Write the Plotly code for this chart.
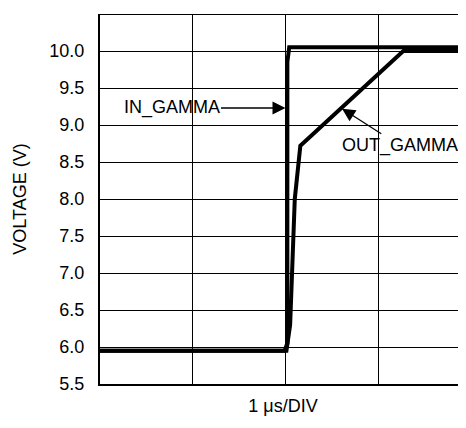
import plotly.graph_objects as go

# time in divisions (1 us/DIV), voltage in V
in_t = [0, 1.99, 2.02, 2.02, 2.04, 4.0]
in_v = [5.95, 5.95, 6.05, 9.85, 10.05, 10.05]

out_t = [0, 2.01, 2.05, 2.10, 2.16, 3.27, 4.0]
out_v = [5.95, 5.95, 6.3, 8.0, 8.72, 10.0, 10.0]

y_ticks = [5.5, 6.0, 6.5, 7.0, 7.5, 8.0, 8.5, 9.0, 9.5, 10.0, 10.5]

FONT = "Liberation Sans, Arial, sans-serif"

fig = go.Figure()
fig.add_trace(go.Scatter(x=out_t, y=out_v, mode="lines",
                         line=dict(color="black", width=4), name="OUT_GAMMA"))
fig.add_trace(go.Scatter(x=in_t, y=in_v, mode="lines",
                         line=dict(color="black", width=4), name="IN_GAMMA"))

# top border
fig.add_shape(type="line", xref="paper", yref="y", x0=0, x1=1, y0=10.5, y1=10.5,
              line=dict(color="black", width=2))

fig.add_annotation(x=2.0, y=9.23, ax=-114, ay=0, text="IN_GAMMA",
                   showarrow=True, arrowhead=2, arrowsize=2, arrowwidth=1.3,
                   arrowcolor="black", font=dict(size=18, color="black"))
fig.add_annotation(x=2.61, y=9.22, ax=58, ay=37, text="OUT_GAMMA",
                   showarrow=True, arrowhead=2, arrowsize=2, arrowwidth=1.3,
                   arrowcolor="black", font=dict(size=18, color="black"))

# page body has an 8px margin, so the figure is a bit smaller than the window
fig.update_layout(
    width=458, height=420,
    margin=dict(l=92, r=0, t=6, b=44),
    plot_bgcolor="white", paper_bgcolor="white",
    showlegend=False,
    font=dict(family=FONT, size=18, color="black"),
    xaxis=dict(range=[0, 3.946], dtick=1, showticklabels=False, ticks="",
               showgrid=True, gridcolor="black", gridwidth=1,
               showline=True, linecolor="black", linewidth=2, zeroline=False,
               title=dict(text="1 μs/DIV", standoff=14, font=dict(size=18))),
    yaxis=dict(range=[5.5, 10.5], tickvals=y_ticks, tickformat=".1f", ticks="",
               ticklabelstandoff=10,
               showgrid=True, gridcolor="black", gridwidth=1,
               showline=True, linecolor="black", linewidth=2, zeroline=False,
               title=dict(text="VOLTAGE (V)", standoff=18, font=dict(size=18))),
)

fig.write_html("out.html")
